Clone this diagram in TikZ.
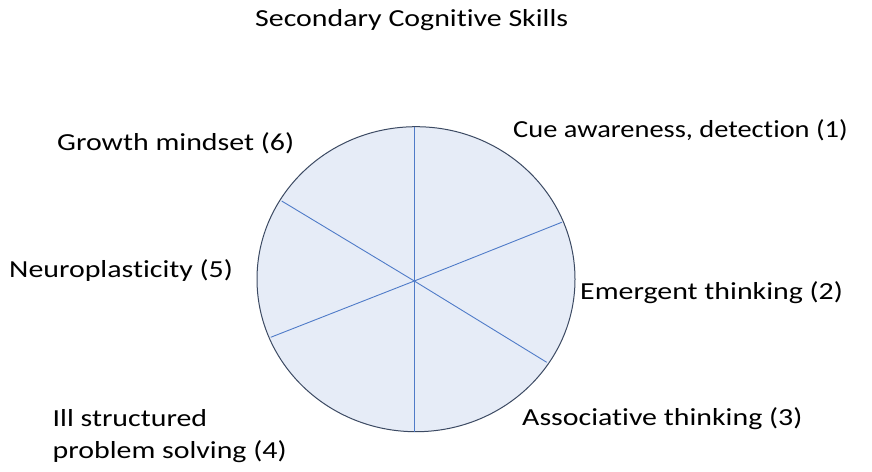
\documentclass[tikz,border=0pt]{standalone}
\usepackage{fontspec}
\usetikzlibrary{shapes.geometric}
\setmainfont{Carlito}[FakeStretch=1.22,Ligatures=NoCommon]
\newfontfamily\cuefont{Carlito}[FakeStretch=1.16,Ligatures=NoCommon]
\begin{document}
\begin{tikzpicture}[x=1pt,y=-1pt,
  lbl/.style={anchor=base west,inner sep=0pt,font=\fontsize{24.5}{32}\selectfont,text=black},
  spoke/.style={draw=spokeblue,line width=0.9pt}]
\definecolor{fillblue}{HTML}{E6ECF7}
\definecolor{rimcol}{HTML}{3C4A63}
\definecolor{spokeblue}{HTML}{4F7BC8}
\useasboundingbox[fill=white] (0,0) rectangle (872,471);
\node[draw=rimcol,fill=fillblue,line width=1pt,ellipse,minimum width=318pt,minimum height=305pt,inner sep=0pt] (wheel) at (416,279.2) {};
\coordinate (c) at (414.3,281);
\coordinate (t) at (414.3,126.7);
\coordinate (b) at (414.3,431.7);
\coordinate (ul) at (281.7,201);
\coordinate (lr) at (546.7,362.3);
\coordinate (ur) at (561.7,222.3);
\coordinate (ll) at (270.7,337.3);
\draw[spoke] (t) -- (b);
\draw[spoke] (ul) -- (c) -- (lr);
\draw[spoke] (ll) -- (c) -- (ur);
\node[lbl] (title) at (255,26) {Secondary Cognitive Skills};
\node[lbl,font=\fontsize{24.5}{32}\selectfont\cuefont] (l1) at (513,137) {Cue awareness, detection (1)};
\node[lbl] (l2) at (580,299) {Emergent thinking (2)};
\node[lbl] (l3) at (522,425) {Associative thinking (3)};
\node[lbl,align=left] (l4) at (52.5,458.3) {Ill structured\\problem solving (4)};
\node[lbl] (l5) at (9,277) {Neuroplasticity (5)};
\node[lbl] (l6) at (57,150) {Growth mindset (6)};
\end{tikzpicture}
\end{document}
